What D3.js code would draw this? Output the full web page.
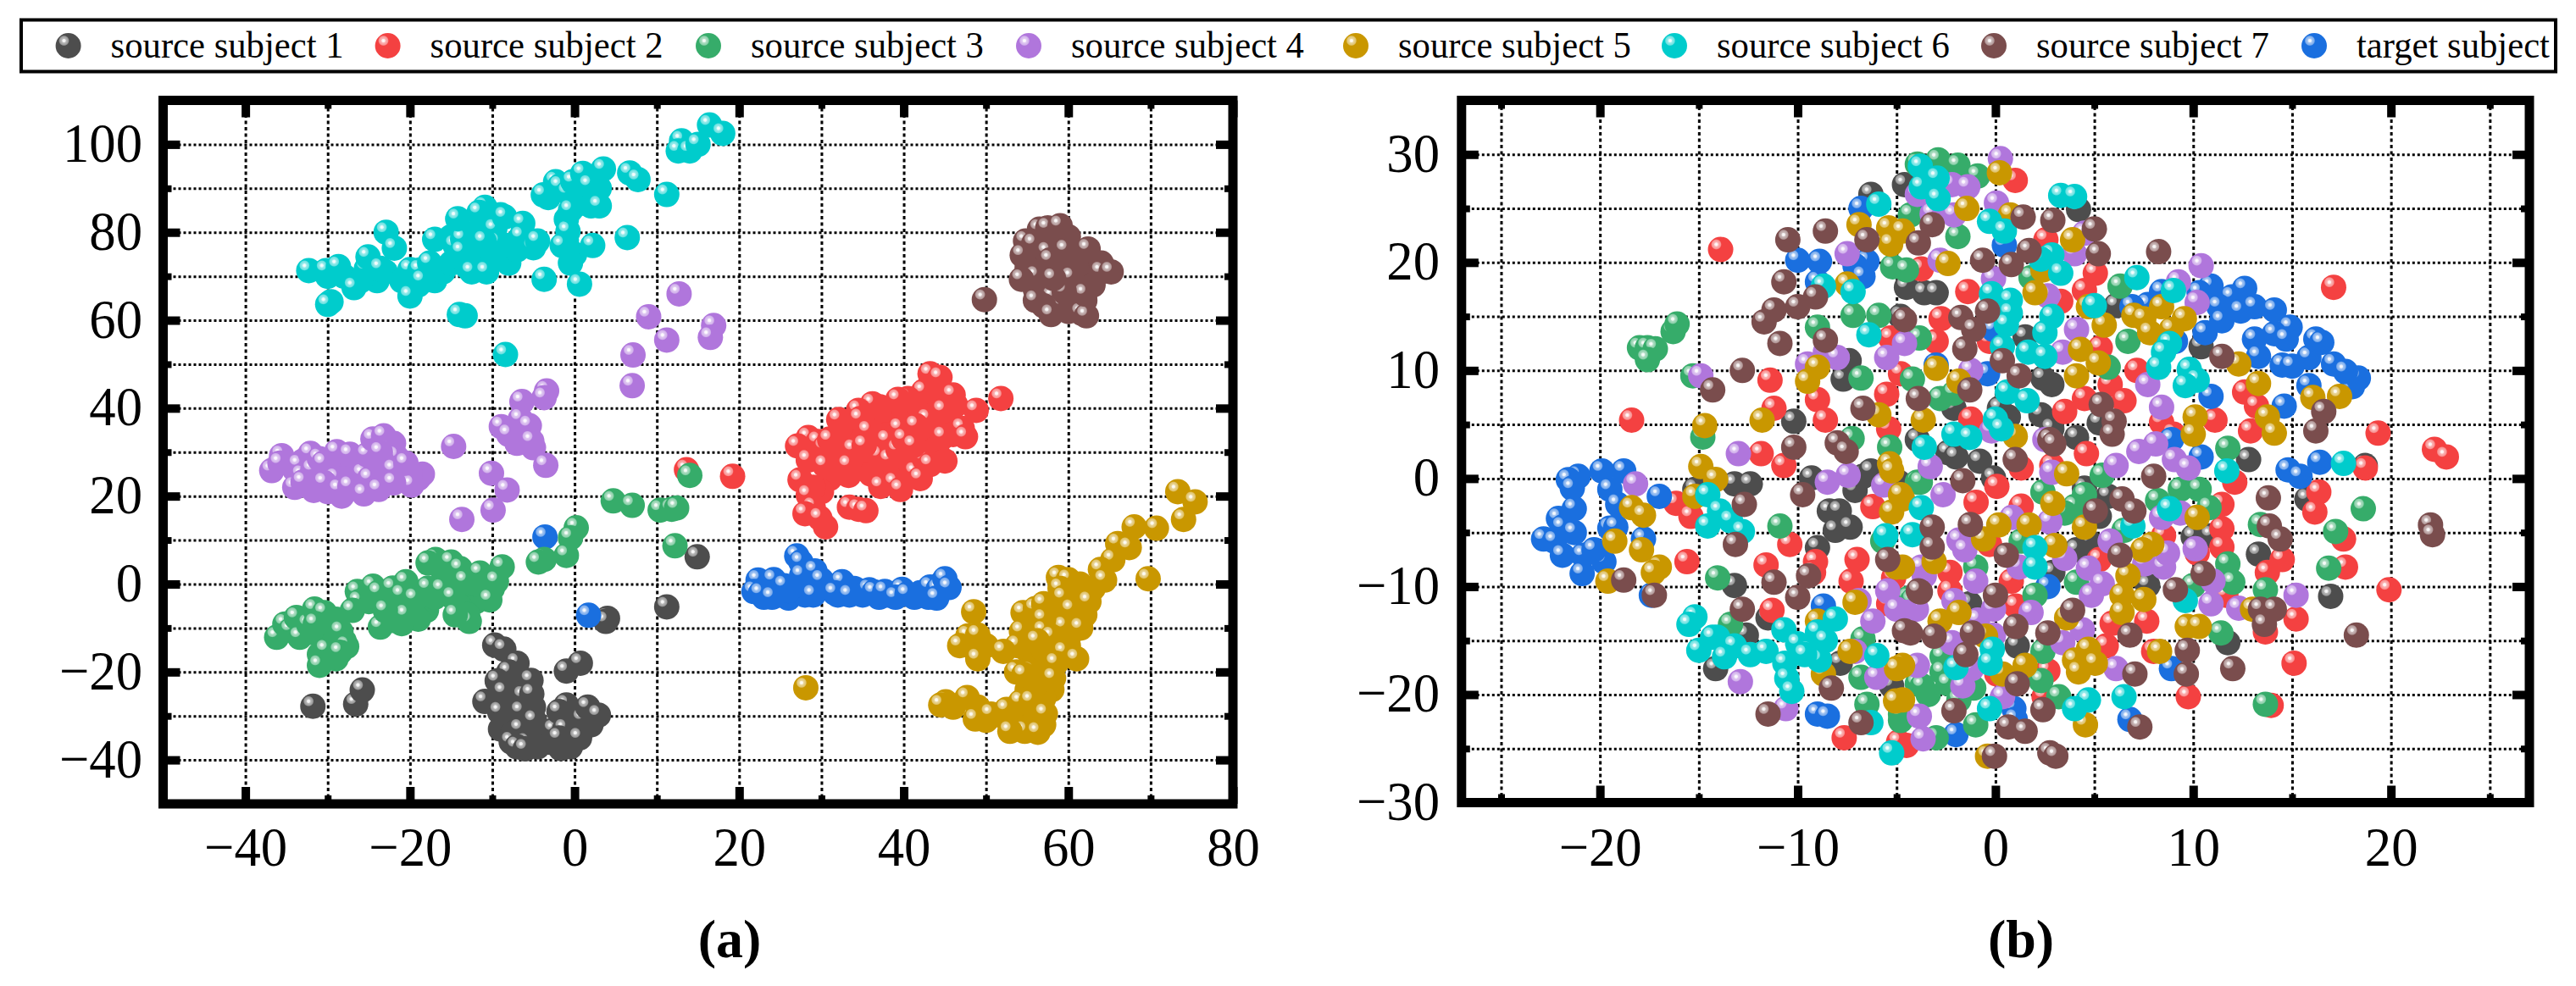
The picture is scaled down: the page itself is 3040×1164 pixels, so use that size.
<!DOCTYPE html>
<html><head><meta charset="utf-8">
<script src="https://cdn.jsdelivr.net/npm/d3@7/dist/d3.min.js"></script>
<style>html,body{margin:0;padding:0;background:#fff}svg{display:block}text{font-family:"Liberation Serif",serif;fill:#000}</style>
</head><body><svg id="c" width="3040" height="1164"></svg>
<script>
const seriesNames=["source subject 1","source subject 2","source subject 3","source subject 4","source subject 5","source subject 6","source subject 7","target subject"];
const seriesColors=["#4d4d4d","#f44141","#36ac6a","#b076dc","#c99700","#00cccc","#7a4d4d","#1a6fdf"];

// Panel (a)
const a1=[[-31.8,-27.8],[-26.6,-27.3],[-25.8,-24.1],[-9.7,-13.9],[-8.6,-14.8],[-7,-18],[-8,-20],[-9.4,-22],[-5.3,-21.9],[-8.6,-24.6],[-10.9,-26.7],[-9.1,-29.1],[-6.2,-25.5],[-5.2,-25],[-6.5,-29],[-6.6,-33],[-7.7,-35.9],[-5.8,-36.2],[-7,-37],[-6,-37.5],[-4.9,-31],[-2.5,-33.2],[-1,-27.5],[-1.9,-29],[1,-30.7],[1.6,-28],[2.9,-29.8],[-0.2,-34.6],[-1.2,-33],[-1.7,-37.4],[-1.9,-35],[0.6,-35],[-1,-19.8],[0.7,-18],[4,-7.8],[3.8,-8.5],[11.2,-5.2],[14.9,6.2]];
const a2=[[51.8,42.2],[43.2,47.8],[44.4,47],[42.4,43.8],[40.5,42.2],[39.3,42],[46.3,40.7],[46,43],[48.8,39.5],[37.1,40.3],[36.2,41],[32.1,37.4],[34.5,39.5],[34.7,37.6],[35.7,34.8],[39.5,35.4],[42.9,37.5],[41.5,36],[47.1,35.4],[44.8,39.5],[38,32.7],[44.8,33.5],[47.5,33.5],[28.4,33.3],[27.1,31.4],[29.6,32.4],[30.4,31],[31,32.8],[28.4,28.2],[30.4,27],[27.4,23.7],[28.4,20.2],[29,17.4],[28,16],[30.5,13],[29.8,15],[33.9,30.6],[33.3,24.7],[33.3,27],[37,29.2],[38.3,28.3],[39.3,30.6],[37.2,22.2],[38.9,23],[39.6,21.5],[41.4,25.4],[42.5,28.5],[43.2,27.2],[42,24],[35.2,31.5],[40,33],[41.2,31.5],[33.4,17.5],[34.5,17],[35.4,16.7],[19.2,24.5],[13.6,26]];
const a3=[[-36.2,-12.1],[-35.2,-9.1],[-34.5,-10.5],[-33.8,-7.6],[-33.4,-12.1],[-32.3,-9.2],[-31.6,-5.7],[-30.4,-6.5],[-31.5,-9],[-28.4,-10.8],[-30.2,-15],[-31,-18.5],[-27.7,-14.2],[-28.5,-15.5],[-26.4,-1.7],[-26.2,-4],[-27,-6],[-24.5,-0.5],[-23.8,-1.9],[-22.1,-0.9],[-20.5,0.5],[-21,-2.5],[-19.4,-3.3],[-23.6,-9.8],[-22,-8.3],[-20.5,-7],[-23,-6],[-17.8,-0.9],[-16.1,-1.2],[-16.9,5.6],[-17.8,4.8],[-15,5],[-13.9,3.5],[-13.3,0.7],[-11.5,2.5],[-8.8,3.9],[-9.5,0.6],[-10.3,-3.6],[-14.8,-3],[-12.8,-8.5],[-14.5,-7],[0.2,12.8],[-0.5,10.5],[-1,6.5],[-3.7,5.6],[-4.4,5],[4.7,18.9],[7,17.9],[10.4,16.8],[11.8,17],[12.4,17.3],[14,24.7],[12.2,8.7]];
const a4=[[9,60.8],[11.2,55.5],[7.1,52.1],[7,45.1],[12.7,66],[16.9,58.8],[16.5,56.1],[-3.4,43.9],[-3.7,42.4],[-6.4,41.5],[-8.9,35.8],[-6.2,34.6],[-6.6,37.5],[-5.5,36],[-5.2,32.5],[-8,34],[-14.7,31.3],[-3.5,27],[-10.1,25.2],[-8.2,21.4],[-9.9,16.8],[-13.7,14.7],[-36.8,25.8],[-35.6,29.2],[-35.8,27.5],[-33.5,27.1],[-33.1,24.7],[-32.1,29.7],[-31.8,26],[-31,28.5],[-30.5,27.5],[-28.9,30.1],[-27.3,29.5],[-34,22],[-31.7,21.3],[-33,23.2],[-29,24],[-30.4,23],[-28.3,20],[-28.6,21.5],[-27.3,22.2],[-25.7,25],[-24.9,24],[-25.2,29.4],[-24.5,33],[-23.2,33.7],[-22.7,30.4],[-21.7,29],[-23.4,27.9],[-23.6,30],[-22,26],[-19.8,22.5],[-25.6,20.5],[-23.8,21.5],[-22,23],[-20.5,27.5]];
const a5=[[73.3,21],[75.4,18.7],[74,14.7],[68,13],[70.7,12.7],[66,9.2],[67.4,8.3],[65.4,5.5],[63.9,3.3],[64.4,0.9],[69.7,1.2],[58.8,1.5],[61.4,0],[60,1],[59,-1],[59.4,-3.1],[60.4,-5.8],[62.5,-4],[59.5,-9.7],[61.5,-10],[54.5,-6.5],[56,-5.6],[57,-4.5],[57,-8],[54.3,-10.8],[57,-10.7],[58,-12],[56.2,-12.9],[53.8,-14],[52.1,-15.3],[59.5,-15.5],[61,-17],[58.5,-18],[55.5,-20],[58.2,-21.4],[53.7,-20],[54.6,-20.6],[47.8,-11.8],[49,-11.6],[46.8,-14],[48.5,-6.3],[49,-17],[28.1,-23.6],[45.1,-26.8],[44.5,-27.5],[47.7,-25.8],[48.7,-30.7],[50.6,-29.6],[52.5,-28.5],[54.2,-26.8],[55.5,-26.6],[54.7,-33.5],[52.9,-33.5],[57.2,-29.5],[56.3,-33.7]];
const a6=[[-32.3,71.3],[-30.2,71.3],[-28.7,72.2],[-29.6,64.2],[-30,63.6],[-26.8,67.4],[-25.3,71.7],[-25.1,74.4],[-23.6,71.8],[-22.9,80],[-21.9,76.4],[-20,71.5],[-18.8,71.4],[-20,65.5],[-17.6,73],[-18.5,69],[-17,78.4],[-14.5,77],[-13.6,78.5],[-13.7,75.6],[-14.2,83.1],[-10.9,85.7],[-11.6,84.5],[-9.7,80.7],[-9.4,77.6],[-8.5,83.5],[-12.5,71],[-10.7,71],[-11,78],[-6.3,82],[-6.5,79],[-5,76.5],[-4.5,78],[-3.7,69.3],[-0.8,80.2],[-1.5,77],[2.2,77],[0.6,68.2],[6.4,78.8],[-3.2,87.9],[-3.8,88.5],[-2.3,91.5],[-1.8,90.5],[-0.8,89],[-0.2,91.5],[1,93.4],[1.8,90.7],[3.5,94.4],[3,86],[-0.5,85],[6.7,93.5],[7.7,92],[11.2,88.6],[13,100.8],[12.6,98.5],[14,98.5],[15,100],[16.4,104.4],[18,102.5],[-13.3,61],[-14,61.3],[-8.4,52.2]];
const a7=[[49.8,64.7],[58.4,80.1],[56.5,80.7],[57.5,81],[59,81.5],[54.8,78],[55.8,77.4],[54.4,74.8],[57.5,75.5],[57.8,73.7],[60.8,73.8],[62.4,76.2],[59.7,76],[64,71],[65.2,71],[60.4,69.7],[56.1,70],[54.3,69.3],[58.1,65.3],[58.7,62.8],[57,63.3],[56,64.5],[61.6,61.6],[62.2,61],[57.9,61.3],[62,66],[59.5,66.5],[58.2,69.5]];
const a8=[[-3.6,10.7],[1.7,-7.1],[27,6.4],[27.5,5],[22.3,0.9],[21.8,-1.7],[22.6,-2.1],[24.2,1],[25.5,-0.4],[24,-3],[27.9,-0.2],[27.6,2],[29.2,3],[30,0.9],[29,-2.5],[32.5,0.5],[31.6,-2],[33.4,-2.5],[35.8,-1.3],[36.4,-1.8],[37.7,-1.7],[39.8,-1.2],[39,-3],[41.3,-3],[40.4,-2.3],[43.2,-0.7],[44.2,-1.2],[45,1.2],[45.5,-0.8],[44,-3.2]];

// Panel (a): points inside the solid parts of each cluster, where no highlight shows
const a1Solid=[[-7,-22],[-7,-25],[-8,-27],[-8,-31],[-6,-32],[-6,-35],[-4,-35],[-3,-36],[-9,-33],[-5,-28],[-7.5,-34],[-9.5,-26],[0,-32],[-1,-31],[1,-33],[2,-32],[-0.5,-37],[-3.5,-33.5],[-4.5,-37]];
const a2Solid=[[30,29],[31,33],[32,30],[33,34],[35,33],[36,36],[38,37],[36,29],[35,27],[31,24],[30,21],[29,22],[38,34],[40,38],[42,40],[44,43],[45,37],[43,34],[41,31],[44,31],[40,27],[38,25],[36,25],[45,28],[46,34]];
const a3Solid=[[-29,-8],[-30,-11],[-32,-11],[-28,-13],[-29,-17],[-31,-16],[-25,-4],[-23,-4],[-21,-5],[-19,-5],[-18,-6],[-19,-8],[-21,-9],[-17,-3],[-15,0],[-13,-2],[-12,-4],[-16,3],[-14,-5],[-13,-7],[-10,-1],[-11,1],[-22,-6],[-24,-3],[-12,0]];
const a4Solid=[[-34,26],[-33,28],[-32,24],[-30,26],[-28,27],[-27,26.5],[-30,21],[-32,22],[-28,24],[-24,28],[-22,25],[-24,23],[-26,22],[-21,24],[-19,24],[-18.5,25],[-20,25],[-24,31],[-22,32],[-23,25.5],[-6,33],[-5,31],[-7,36],[-7,32]];
const a5Solid=[[60,-8],[62,-7],[60,-12],[58,-15],[60,-14],[55,-15],[56,-17],[57,-18],[52,-30],[53,-31],[55,-31],[56,-30],[50,-31],[46,-28],[49,-28],[57,-15],[58,-7],[56,-9],[63,-1],[61,-2],[58,-9],[55,-24],[58,-24],[57,-26],[56,-23],[48,-14],[50,-14],[57,-32]];
const a6Solid=[[-24,69],[-23,71],[-21,69],[-19,68],[-17,69],[-16,71],[-15,73],[-12,75],[-10,74],[-8,77],[-8,73],[-7,76],[-13,72],[-15,79],[-12,80],[-9,84],[-1,83],[0,86],[1,88],[3,90],[2,86],[-1,78],[0,75],[-0.5,73],[-28,70],[-26,69],[-30,70],[13,99]];
const a7Solid=[[57,72],[59,72],[61,72],[62,70],[60,67],[58,67],[56,67],[57,78],[59,78],[60,79],[62,73],[64,73],[59,63],[56,74],[60,62],[63,68],[62,64.5],[55,72]];
const a8Solid=[[23,-3],[25,-2.5],[26,-3.2],[28,-2.5],[31,-1],[34,-1],[35,-2.5],[37,-3],[38,-2.5],[42,-2],[43,-3],[28,3],[26,-1.5],[23,0],[29,0],[32,-2.5],[44.5,0]];

// Panel (b)
const b1=[[-6.3,26.3],[-4.6,27.2],[-4.5,17.7],[-4.8,15],[-7.7,9.2],[-7.4,10.9],[-10.2,5.3],[-3.6,17.2],[-3,17.2],[6.1,16],[1.5,13.1],[10.4,12.2],[2.85,8.7],[2.4,9.3],[4.2,24.9],[2.3,5.9],[0.65,5.7],[0.2,6.5],[-2.1,6.5],[2.85,4.6],[5.25,5.15],[4.1,3.8],[-3.95,3.6],[-2.4,2.4],[-0.8,1.6],[-0.1,0.05],[12.8,1.75],[4.5,-0.9],[15.75,-1.9],[13.3,-7],[16.95,-10.9],[1.1,-15.5],[11.75,-15.2],[10,-5.4],[4.7,-5.8],[2.9,-8.7],[7.7,-9.9],[5.7,-1.65],[10.9,-5.3],[18.7,1.2],[-2,2],[5.25,-3.5],[4.1,-6.6],[-1.3,-11.6],[-13.2,-0.5],[-12.4,-0.5],[-15.2,-1],[-9.3,0.05],[-8.4,-3],[-7.9,-3],[-8.1,-4.8],[-7.35,-4.5],[-6.7,0.2],[-7.1,-1.1],[-9,-6.4],[-13.2,-9.9],[-11.5,-12.9],[-12.6,-14.5],[-14.15,-17.6],[-7.85,-17.1],[-5.25,-19.2],[-6.3,0.7],[-4.9,-0.34]];
const b2=[[-13.9,21.2],[-18.4,5.4],[-11.4,9.1],[-11.2,6.5],[-9,7.3],[-8.6,5.4],[-4.8,9.7],[-5.5,7.8],[-5.4,4.6],[-5.3,13],[1,27.6],[2.55,22.1],[-3.75,19.4],[5.05,19],[4.5,17.4],[-1.4,17.3],[3.3,16.4],[-2.75,14.8],[-3,12.7],[-0.3,12.7],[5.3,12.1],[7.15,10],[5.8,8.7],[6.5,7.2],[4.5,7.4],[3.5,6.2],[-1.25,5.5],[12.6,8],[13.2,6.7],[11.1,5.4],[8.4,5.2],[9,4.1],[12.9,4.4],[19.35,4.2],[17.1,17.7],[22.2,2.7],[22.8,2],[18.7,0.97],[16.35,-1.25],[16.15,-3.1],[17.6,-5.6],[17.7,-8.2],[19.9,-10.3],[15.1,-17.1],[9.75,-20.2],[14.5,-7.5],[13.75,-8.7],[15.2,-13],[12.1,-0.34],[11.45,-2.4],[11.45,-4.65],[11.45,-6.35],[10.2,-6.9],[11.65,-10.8],[13.65,-14.2],[7.65,-13.2],[5.9,-13.4],[5.6,-15.5],[8,-16],[4.6,2.3],[2.85,1.2],[1.3,0.97],[0.07,-0.73],[-0.98,-2.2],[1.3,-2.56],[8.5,-5.3],[5.25,-7.5],[0.8,-9.5],[1.03,-11.8],[-0.3,-6.1],[-2.3,-8.7],[-2.3,-10.4],[2.65,-17.8],[0.07,-18.1],[2.46,-20.2],[13.94,-21],[-4.5,-24.7],[-11.85,2.3],[-10.7,1.2],[-16.15,-2.3],[-15.4,-3.5],[-10.4,-6.1],[-15.6,-7.7],[-11.6,-8],[-9.1,-7.7],[-7,-7.5],[-6.2,-2.6],[-7.3,-9.5],[-5.15,-9.2],[-11.3,-12.2],[-7.65,-24],[-4.9,-24.4],[-5.4,-11.6],[-9.2,-8.7]];
const b3=[[-18,12.1],[-17.6,12.1],[-17.2,12],[-17.6,11],[-16.3,13.6],[-16.1,14.3],[-15.3,9.5],[-6.8,9.3],[-7.2,15.1],[-5.9,15.1],[-5.2,19.6],[-9,14],[-4.3,24.4],[-3.95,29.1],[-2.9,29.5],[-1.9,29],[-0.9,28],[-1.9,22.4],[-4.5,19.3],[6.3,17.8],[1.8,18.6],[6.7,12.7],[-3.85,13],[-4.2,9.2],[-2.8,7.4],[-2.1,7.9],[5.7,10.3],[11.75,2.8],[5.4,0.3],[2.4,-1.25],[4.5,-1.5],[4,-2.6],[-3.95,-0.34],[9.35,-1],[10.3,-1],[8.2,-2.04],[10.8,-2.7],[6.5,-4.8],[1.3,-5.8],[-1,-8.2],[11.75,-7.9],[12,-9.6],[10,-9.9],[13.65,-10.3],[13.4,-4.26],[17.2,-4.9],[16.85,-8.3],[18.6,-2.8],[4.1,-9.6],[2,-10.8],[11.4,-14.3],[2.4,-16],[-2.7,-16.5],[-2.7,-17.9],[2.3,-18.7],[3.2,-20.2],[-3.95,-19],[-3.4,-20],[-2.4,-19],[-1.1,-19.4],[-1,-22.8],[-3,-24],[-4.5,-21.8],[-4.4,-11.1],[3.5,-3.2],[13.65,-20.9],[-1.85,-20.5],[-14.8,3.84],[-5.35,2.9],[-7.25,3.7],[-10.9,-4.4],[-14.05,-9.2],[-13.4,-13.5],[-6.7,-14.85],[-6.8,-18.4],[-6.5,-20.9],[-4.8,-22.4],[-5.7,-5.8],[-4.2,-11.3],[-3.8,-0.34],[-3.7,-19.2],[-4.8,-21.8]];
const b4=[[-7.5,20.8],[-14.9,9.5],[-9.5,10.6],[-8.6,11.7],[-8,11.2],[-4.6,12.5],[-5.5,11.2],[0.25,29.6],[-2.2,27.2],[-1.4,27],[0.05,25.5],[-3.2,24.5],[-2.1,24.4],[-3.95,26.3],[4.5,22.7],[4,20.8],[-2.8,20.2],[-0.1,18.5],[2.65,16.9],[4.1,13.8],[9.25,18.2],[10.4,19.7],[10.2,16.3],[3.4,11.7],[-1.25,10],[7.7,8.7],[8.4,6.6],[-0.2,4.4],[2.5,3.6],[6.1,1.2],[7.25,2.5],[8.1,3.2],[9.05,1.75],[9.75,0.97],[2.85,0.57],[-2.65,-1.5],[-3.3,1.1],[8.4,-3.6],[9.35,-3.2],[0.84,-3.6],[2.75,-4],[-1.85,-5.7],[-1.55,-6.6],[5.8,-5.8],[10.1,-6.5],[3.5,-7.4],[1.2,-8.2],[-3.6,-9],[-3.75,-8.2],[-1,-9.5],[4.7,-8.3],[5.4,-9.75],[4.85,-10.8],[7.55,-7.9],[8.5,-8.2],[8.7,-6.9],[11,-9.5],[10.9,-11.6],[12.3,-12],[15.2,-10.8],[-2.1,-11.3],[1.8,-12.4],[-0.1,-12.1],[-0.9,-13.1],[-0.1,-14.5],[-4,-12.1],[-4.5,-12.4],[4.4,-14],[3.4,-15.2],[-2.2,-15.2],[-3.95,-17.3],[-1.65,-19.2],[0.36,-20.2],[6.1,-17.6],[-3.85,-22],[-3.66,-24.1],[-1.2,-17.6],[-18.2,-0.5],[-13,2.3],[-7.45,0.3],[-8.5,-0.34],[-5.65,-0.6],[-5.45,-10.4],[-6.2,-13.2],[-5,-12.1],[-6.9,-11.3],[-6,-18.4],[-12.9,-18.8],[-10.6,-21.3],[-7.1,-16]];
const b5=[[-6.9,23.5],[-5.4,23.2],[-5.3,21.7],[-7.5,18],[-9,10.3],[-9.5,9],[-14.7,4.9],[-11.8,5.4],[-5.9,5.9],[0.2,28.3],[-1.45,25],[0.75,24.4],[3.9,22.1],[-2.4,19.9],[2.4,19.3],[2,17.2],[4.7,15.9],[8.4,15.9],[7,15.1],[7.5,14.8],[7.8,13.5],[8.9,13.8],[9.55,14.8],[5.5,14.2],[4.3,11.95],[5.2,10.7],[-3,10.2],[-1.85,9],[4.1,9.5],[12.3,10.6],[13.3,8.8],[16.05,7.5],[17.4,7.6],[10.1,5.7],[13.75,5.7],[14.1,4.2],[10,4.1],[1,3.9],[-3.65,5.4],[-4.7,22.9],[3.6,0.44],[2.9,-2.3],[10.2,-3.6],[7.9,-6.1],[7.45,-6.6],[4.5,-4.5],[3,-6.2],[1.7,-4.3],[0.17,-4.3],[-0.6,-5.6],[6.7,-9],[6.4,-10.8],[7.5,-11.2],[6.4,-12.4],[-3.1,-7.7],[-1.85,-12.4],[-2.8,-13.2],[3.6,-12.9],[9.7,-13.7],[10.3,-13.7],[13,-12.1],[8.3,-16],[4.7,-15.8],[4,-16.8],[5.05,-17.1],[4.2,-17.9],[1.5,-17.3],[0.36,-18.1],[4.55,-22.8],[-0.5,-14.6],[-0.4,-25.7],[-4.7,-1.9],[-4.7,-8.2],[-4.7,-17.3],[-4.7,-20.5],[-14.9,1.1],[-14.15,-0.08],[-15.2,-1.65],[-18.4,-2.7],[-17.8,-3.4],[-19.25,-5.8],[-17.9,-6.6],[-17,-8.2],[-17.3,-8.7],[-19.6,-9.5],[-5.35,1.36],[-5.25,0.7],[-4.8,-1.5],[-5.25,-3.1],[-5,-8.2],[-7.1,-11.45],[-9,-13.2],[-7.35,-16],[-8.7,-18.1],[-5,-17.6],[-5.05,-20.6]];
const b6=[[-5.9,25.4],[-8.7,17.8],[-7.2,17.3],[-6.4,13.3],[-3.8,28.9],[-2.95,27.8],[-3.75,27],[-2.9,25.9],[3.3,26.2],[4,26.1],[-0.3,23.8],[0.45,22.9],[7.15,18.6],[2.85,20.7],[2.3,20.3],[3.3,19],[-0.2,17.1],[0.75,16.5],[0.75,15.3],[0.55,14.25],[0.35,12.2],[2.85,15],[2.5,13.5],[1.65,11.7],[2.5,11.3],[5,16],[9,17.4],[8.8,12.5],[8.5,11.7],[8.25,10.3],[9.8,10.1],[10.2,9.1],[9.6,8.6],[0.6,8],[1.6,7.2],[0,5.5],[-2.1,4.1],[-1.3,3.8],[-3.6,2.9],[0.3,4.6],[-3.75,-2.7],[-4.2,-5.2],[2,-6.4],[2,-8.2],[8.8,-2.8],[6.95,-4.4],[11.7,0.7],[17.6,1.4],[9.6,-11.3],[-0.16,-15.8],[-0.27,-17.1],[-2,-17.5],[-0.3,-21.3],[6.5,-20.2],[4.7,-20.5],[4,-21.3],[-14.55,-1.5],[-13.95,-3],[-13.4,-3.9],[-14.55,-4.4],[-12.8,-4.9],[-5.55,-5.3],[-15.2,-12.8],[-15.5,-13.5],[-14.05,-14.7],[-14.3,-14.7],[-15,-15.9],[-13.2,-15.5],[-13.7,-16.5],[-12.4,-16.3],[-11.6,-16],[-10.7,-14],[-10,-15.3],[-10.65,-17.1],[-10.55,-18.5],[-10.3,-19.7],[-9,-14.2],[-8.1,-13],[-8.6,-15],[-9.4,-16],[-8.9,-16.8],[-6,-16.4],[-5.25,-25.4],[-6.3,-22.6],[-9.65,-16.3]];
const b7=[[-10.5,22.1],[-8.6,22.9],[-10.7,18.2],[-9.1,16.8],[-10,15.9],[-11.2,15.6],[-11.7,14.5],[-10.9,12.5],[-8.6,12.8],[-6.5,22.1],[-12.8,10],[-14.3,8.2],[-6.7,6.5],[-4.6,14.7],[-3.9,21.8],[1.4,24.2],[2.9,23.9],[5,23.1],[5.2,20.8],[1.7,21.1],[0.8,19.8],[-0.65,20.2],[8.25,21],[-3.2,23.5],[-1.75,14.9],[-0.4,15.5],[-1.1,13.8],[-1.55,12],[0.35,10.9],[1.2,9.5],[-1.3,8.2],[-3.9,7.4],[5.35,6.85],[11.45,11.3],[16.6,6.2],[16.2,4.4],[6,5.3],[5.9,4.1],[2.75,3.6],[1,1.75],[2.95,3.2],[-1.65,-0.2],[8,0.2],[6.4,-1.9],[7,-3],[5.05,-3],[-1.27,-4.26],[-3.2,-4.5],[-3.2,-6.35],[0.55,-7.1],[6.3,-7.1],[10.5,-8.8],[13.8,-1.8],[13.85,-4.4],[14.4,-5.6],[22,-4.3],[22.1,-5.2],[18.25,-14.5],[-3.8,-10.5],[0,-10.8],[3.9,-12.2],[9.1,-10.3],[13.4,-12.1],[14.1,-12.1],[13.6,-13.5],[6.8,-14.5],[1.03,-13.7],[2.65,-14.3],[-1.17,-14.3],[-3.1,-14.6],[-4.3,-14.3],[-1.5,-16.3],[9.7,-15.9],[9.65,-18.1],[7.05,-18.1],[12,-17.6],[1.1,-19],[-2.1,-21.5],[2.4,-21.4],[0.65,-23],[1.5,-23.4],[7.3,-23],[-0.05,-25.7],[2.75,-25.4],[3.05,-25.7],[-10.2,2.9],[-8,3.3],[-7.55,2.5],[-9.75,-1.5],[-12.7,-2.4],[-13.15,-6.1],[-11.2,-9.6],[-9.45,-9],[-10,-11],[-18.8,-9.4],[-17.25,-10.8],[-12.8,-12.1],[-5.45,-7.5],[-4.6,-14.1],[-8.3,-19.4],[-11.5,-21.8],[-6.8,-22.6],[-3.9,-10.4]];
const b8=[[-10,20.2],[-8.9,20.1],[-6.8,25],[-6.5,20.1],[-7.1,19.7],[-9,18.2],[-6.7,18.7],[0.45,21.6],[10.9,17.8],[10.3,17.2],[11.95,16.8],[12.6,17.6],[11.3,15.9],[12.4,15.5],[13.1,15.9],[14.1,15.6],[11.45,14.6],[10.6,13.5],[14.9,14],[14.1,13.4],[14.7,12.9],[13.1,12.9],[13.3,11.3],[15.85,11.2],[16.2,12.9],[16.5,12.6],[17.1,10.6],[14.5,10.5],[15,10.4],[18.05,8.5],[18.35,9.3],[15.85,8.6],[17.7,9.9],[14.6,6.7],[10.9,7.6],[8.4,17.3],[7.7,16.1],[6.9,15.9],[-0.4,9.7],[-3,10.5],[-0.1,13.8],[8.9,3.6],[9.1,12.7],[-3.75,25.3],[10.4,2],[14.8,0.8],[15.4,0.2],[16.4,1.5],[2.65,-10],[8.9,-17.6],[0.93,-21.3],[1,-22.3],[6.8,-22.3],[-2,-23.7],[-19.9,0.7],[-18.8,0.7],[-21.1,0.2],[-21.6,-0.1],[-21.4,-0.9],[-19.5,-1],[-17,-1.65],[-19.1,-2.4],[-21.3,-2.8],[-22.1,-3.7],[-21.9,-4.5],[-21.3,-5],[-22.85,-5.6],[-22.3,-5.8],[-19.5,-4.6],[-19.2,-4.5],[-17.8,-5.6],[-21.9,-7.1],[-20.85,-7.1],[-19.8,-7.7],[-20.3,-6.6],[-20.9,-8.8],[-17.4,-10.8],[-8.7,-11.8],[-9,-21.8],[-8.5,-22]];

const drawOrder=[0,1,7,2,3,4,5,6];
const aXMajor=[-40,-20,0,20,40,60,80], aXMinor=[-30,-10,10,30,50,70];
const aYMajor=[-40,-20,0,20,40,60,80,100], aYMinor=[-30,-10,10,30,50,70,90];
const bXMajor=[-20,-10,0,10,20], bXMinor=[-25,-15,-5,5,15,25];
const bYMajor=[-30,-20,-10,0,10,20,30], bYMinor=[-25,-15,-5,5,15,25];

const svg=d3.select("#c");
const defs=svg.append("defs");
seriesColors.forEach((c,i)=>{
  const g=defs.append("radialGradient").attr("id","ball"+i).attr("cx",.33).attr("cy",.3).attr("r",.28);
  [[0,"#fff"],[.22,d3.interpolateRgb(c,"#fff")(.88)],[.3,d3.interpolateRgb(c,"#fff")(.62)],[.62,d3.interpolateRgb(c,"#fff")(.42)],[.75,c],[1,c]]
    .forEach(s=>g.append("stop").attr("offset",s[0]).attr("stop-color",s[1]));
});
const R=15;
function squeeze(sel,k){sel.each(function(){const l=this.getComputedTextLength();this.setAttribute("textLength",l*k);this.setAttribute("lengthAdjust","spacingAndGlyphs");});}
function panel(o){
  const x=d3.scaleLinear().domain(o.xd).range(o.xr), y=d3.scaleLinear().domain(o.yd).range(o.yr);
  const g=svg.append("g");
  const [L,Rt]=o.xr,[B,T]=o.yr;
  const fmt=d=>String(d).replace("-","\u2212");
  // grid
  g.append("g").attr("transform",`translate(0,${B})`).call(d3.axisBottom(x).tickValues(o.xMaj.concat(o.xMin).filter(v=>v>o.xd[0]&&v<o.xd[1])).tickSize(-(B-T)).tickFormat("")).call(s=>s.select(".domain").remove()).selectAll("line").attr("stroke","#000").attr("stroke-width",3).attr("stroke-dasharray","4 3.5");
  g.append("g").attr("transform",`translate(${L},0)`).call(d3.axisLeft(y).tickValues(o.yMaj.concat(o.yMin).filter(v=>v>o.yd[0]&&v<o.yd[1])).tickSize(-(Rt-L)).tickFormat("")).call(s=>s.select(".domain").remove()).selectAll("line").attr("stroke","#000").attr("stroke-width",3).attr("stroke-dasharray","3 3");
  // points
  drawOrder.forEach(i=>{
    if(o.solid) g.append("g").selectAll("circle").data(o.solid[i]).join("circle").attr("cx",d=>x(d[0])).attr("cy",d=>y(d[1])).attr("r",R).attr("fill",seriesColors[i]);
    g.append("g").selectAll("circle").data(o.data[i]).join("circle").attr("cx",d=>x(d[0])).attr("cy",d=>y(d[1])).attr("r",R).attr("fill",`url(#ball${i})`);
  });
  // ticks
  const ticks=(axis,tr,vals,len,w)=>{const a=g.append("g").attr("transform",tr).call(axis.tickValues(vals).tickSizeInner(-len).tickSizeOuter(0).tickFormat(""));a.select(".domain").remove();a.selectAll("line").attr("stroke","#000").attr("stroke-width",w);};
  ticks(d3.axisBottom(x),`translate(0,${B})`,o.xMaj,20,10);
  ticks(d3.axisTop(x),`translate(0,${T})`,o.xMaj,20,10);
  ticks(d3.axisBottom(x),`translate(0,${B})`,o.xMin,10,8);
  ticks(d3.axisTop(x),`translate(0,${T})`,o.xMin,10,8);
  ticks(d3.axisLeft(y),`translate(${L},0)`,o.yMaj,20,10);
  ticks(d3.axisRight(y),`translate(${Rt},0)`,o.yMaj,20,10);
  ticks(d3.axisLeft(y),`translate(${L},0)`,o.yMin,10,8);
  ticks(d3.axisRight(y),`translate(${Rt},0)`,o.yMin,10,8);
  g.append("rect").attr("x",L).attr("y",T).attr("width",Rt-L).attr("height",B-T).attr("fill","none").attr("stroke","#000").attr("stroke-width",11);
  // labels
  const ax=g.append("g").attr("transform",`translate(0,${B})`).call(d3.axisBottom(x).tickValues(o.xMaj).tickSize(0).tickFormat(fmt));
  ax.select(".domain").remove();
  ax.selectAll("text").attr("y",0).attr("dy",null).attr("transform",`translate(0,${1022-B})`).attr("font-size",66).attr("font-family","Liberation Serif").attr("fill","#000").call(squeeze,.95);
  const ay=g.append("g").attr("transform",`translate(${o.labX},0)`).call(d3.axisLeft(y).tickValues(o.yMaj).tickSize(0).tickPadding(0).tickFormat(fmt));
  ay.select(".domain").remove();
  ay.selectAll("text").attr("dy",null).attr("y",20).attr("x",0).attr("text-anchor","end").attr("font-size",66).attr("font-family","Liberation Serif").attr("fill","#000").call(squeeze,.95);
  svg.append("text").attr("x",o.capX).attr("y",1130).attr("text-anchor","middle").attr("font-size",64).attr("font-weight","bold").text(o.cap);
}
panel({xd:[-50,80],xr:[192.5,1455],yd:[-50,110],yr:[949,118.5],xMaj:aXMajor,xMin:aXMinor,yMaj:aYMajor,yMin:aYMinor,labX:168,capX:861,cap:"(a)",data:[a1,a2,a3,a4,a5,a6,a7,a8],solid:[a1Solid,a2Solid,a3Solid,a4Solid,a5Solid,a6Solid,a7Solid,a8Solid]});
panel({xd:[-27,27],xr:[1724.8,2985],yd:[-30,35],yr:[947.5,118.5],xMaj:bXMajor,xMin:bXMinor,yMaj:bYMajor,yMin:bYMinor,labX:1699,capX:2385,cap:"(b)",data:[b1,b2,b3,b4,b5,b6,b7,b8]});

// legend
const legendMarkerX=[80.6,457.6,836,1214,1600,1976,2353,2731];
const lg=svg.append("g");
lg.append("rect").attr("x",25).attr("y",23.5).attr("width",2991).attr("height",61).attr("fill","#fff").attr("stroke","#000").attr("stroke-width",4);
seriesNames.forEach((n,i)=>{
  lg.append("circle").attr("cx",legendMarkerX[i]).attr("cy",54).attr("r",R).attr("fill",`url(#ball${i})`);
  lg.append("text").attr("x",legendMarkerX[i]+50).attr("y",68).attr("font-size",44).text(n).call(squeeze,.97);
});
</script></body></html>
